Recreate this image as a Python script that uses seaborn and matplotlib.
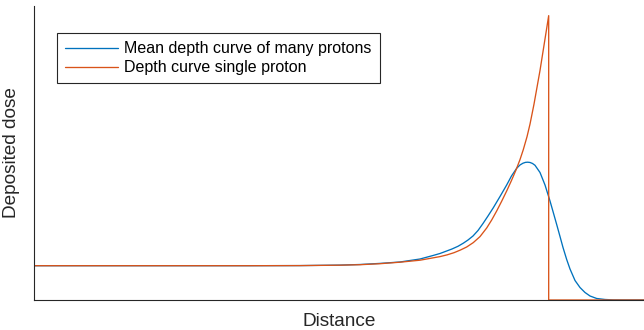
import matplotlib
matplotlib.use("Agg")
import matplotlib.pyplot as plt
import pandas as pd
import seaborn as sns

# Depth in mm, dose normalised to the entrance plateau
mean_depth = [0, 53.93, 66.43, 76.43, 81.43, 86.43, 91.43, 96.43, 99.68, 101.43,
              104.43, 105.93, 107.25, 108.43, 109.68, 110.93, 112.18, 113.43, 114.75,
              116.43, 118.1, 119.3,
              120.6, 121.43, 122.18, 122.8, 123.35, 123.93, 124.55, 125.18, 126.43,
              127.68, 128.5, 128.93, 129.68, 130.6, 131.43, 132.18, 133.1, 133.93,
              135.18, 136.43, 137.68, 138.93, 140.6, 142.68, 144.75, 147.68, 152.43]
mean_dose = [1.000, 1.000, 1.003, 1.017, 1.035, 1.067, 1.108, 1.195, 1.297, 1.356,
             1.487, 1.566, 1.656, 1.749, 1.866, 2.026, 2.230, 2.449, 2.688,
             3.017, 3.353, 3.615,
             3.840, 3.936, 3.988, 4.012, 4.017, 4.009, 3.980, 3.927, 3.717,
             3.353, 3.047, 2.886, 2.580, 2.201, 1.851, 1.531, 1.181, 0.904,
             0.569, 0.364, 0.219, 0.117, 0.044, 0.015, 0.003, 0.0, 0.0]

single_depth = [0, 53.93, 66.43, 76.43, 81.43, 86.43, 91.43, 96.43, 101.43, 103.18,
                104.93, 106.5, 108.1, 109.75, 111.43, 113.1, 114.35, 115.6, 116.85,
                118.1, 119.3, 120.43, 121.43, 122.25, 123.18, 123.93, 124.43, 124.93,
                125.68, 126.43, 127.18, 127.93, 128.6, 128.6, 152.43]
single_dose = [1.000, 1.000, 1.003, 1.015, 1.029, 1.058, 1.102, 1.160, 1.265, 1.315,
               1.379, 1.455, 1.545, 1.673, 1.848, 2.099, 2.332, 2.595, 2.880,
               3.178, 3.484, 3.790, 4.093, 4.382, 4.759, 5.127, 5.418, 5.710,
               6.200, 6.690, 7.241, 7.792, 8.289, 0.0, 0.0]

series_names = ["Mean depth curve of many protons", "Depth curve single proton"]
series_colors = ["#0072BD", "#D95319"]

df = pd.concat([
    pd.DataFrame({"depth": mean_depth, "dose": mean_dose, "curve": series_names[0]}),
    pd.DataFrame({"depth": single_depth, "dose": single_dose, "curve": series_names[1]}),
], ignore_index=True)

sns.set_style("white")
plt.rcParams["font.family"] = ["Liberation Sans", "DejaVu Sans"]

fig = plt.figure(figsize=(6.44, 3.30), dpi=100)
ax = fig.add_axes([34.3 / 644, 30 / 330, 1 - 34.3 / 644, 294 / 330])

sns.lineplot(data=df, x="depth", y="dose", hue="curve", hue_order=series_names,
             palette=dict(zip(series_names, series_colors)), estimator=None,
             sort=False, linewidth=0.95, ax=ax, legend=True)

ax.set_xlim(0, 152.43)
ax.set_ylim(0, 8.57)
ax.set_xticks([])
ax.set_yticks([])
for side in ("top", "right"):
    ax.spines[side].set_visible(False)
for side in ("left", "bottom"):
    ax.spines[side].set_color("#262626")
    ax.spines[side].set_linewidth(0.8)

ax.set_xlabel("Distance", fontsize=13.7, color="#262626", labelpad=9.5)
ax.set_ylabel("Deposited dose", fontsize=13.7, color="#262626", labelpad=10)

handles, labels = ax.get_legend_handles_labels()
ax.get_legend().remove()
leg = ax.legend(handles, labels, loc="upper left",
                bbox_to_anchor=(57.3 / 644, 1 - 33.3 / 330),
                bbox_transform=fig.transFigure, borderaxespad=0,
                fontsize=11.5, handlelength=3.3, handletextpad=0.4,
                borderpad=0.5, labelspacing=0.25, fancybox=False,
                framealpha=1, edgecolor="#262626")
leg.get_frame().set_linewidth(0.8)
for t in leg.get_texts():
    t.set_color("#000000")

fig.savefig("out.png", dpi=100)
